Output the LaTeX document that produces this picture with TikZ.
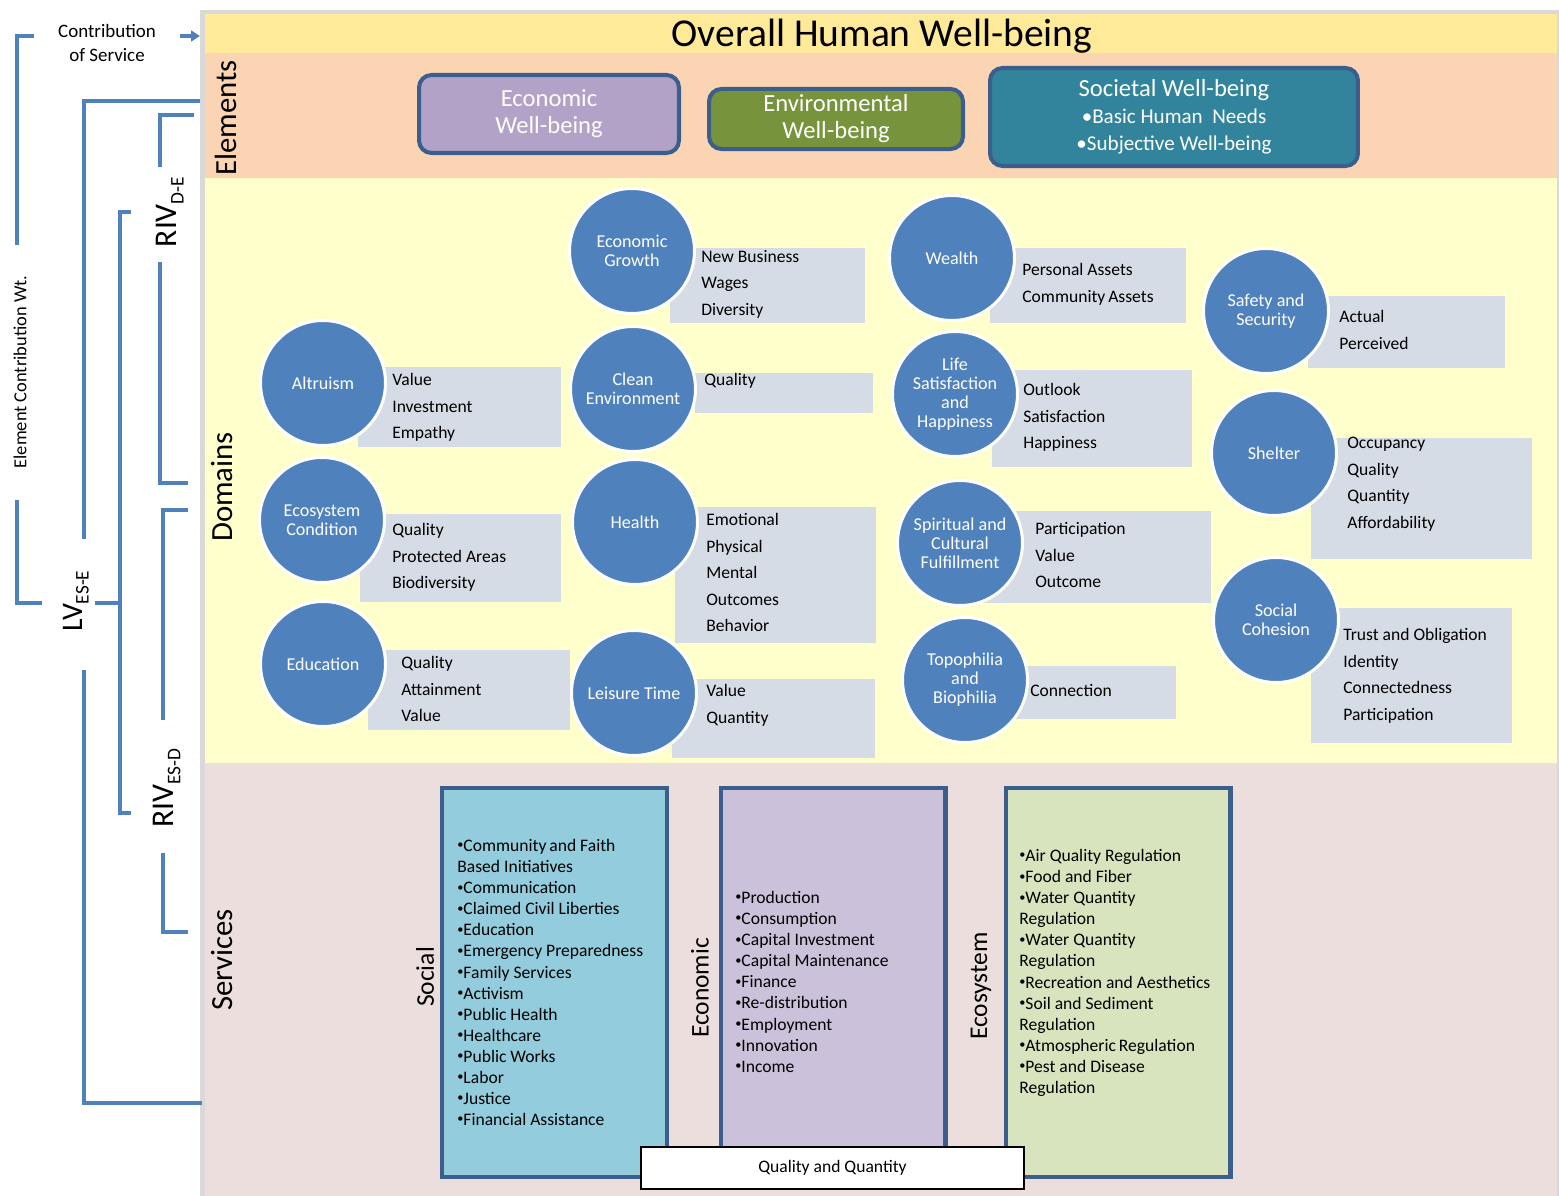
\documentclass[tikz,border=0pt]{standalone}
\usepackage{fontspec}
\setmainfont{Carlito}
\usepackage{xcolor}
\usetikzlibrary{arrows.meta}

\definecolor{bandtop}{HTML}{FFEA9A}
\definecolor{bandelem}{HTML}{FBD4B4}
\definecolor{banddom}{HTML}{FFFFCC}
\definecolor{bandserv}{HTML}{EBDEDD}
\definecolor{framegray}{HTML}{D9D9D9}
\definecolor{domblue}{HTML}{4F81BD}
\definecolor{listgray}{HTML}{D6DCE5}
\definecolor{edgeblue}{HTML}{3B5E8C}
\definecolor{econpurple}{HTML}{B2A2C7}
\definecolor{envgreen}{HTML}{77933C}
\definecolor{socteal}{HTML}{31849B}
\definecolor{servsoc}{HTML}{93CDDD}
\definecolor{servecon}{HTML}{CCC1DA}
\definecolor{serveco}{HTML}{D7E4BD}

\tikzset{
  domcircle/.style={circle, fill=domblue, draw=white, line width=1.7pt, minimum size=2.5cm,
    inner sep=0pt, align=center, text=white, font=\fontsize{10.3}{10.8}\selectfont},
  listtext/.style={anchor=north west, inner sep=0pt, align=left, font=\fontsize{10}{15.1}\selectfont},
  element/.style={rounded corners=0.25cm, draw=edgeblue, line width=2.3pt, align=center,
    text=white, font=\fontsize{14}{15.4}\selectfont},
  servbox/.style={draw=edgeblue, line width=2.3pt, minimum width=4.5cm, minimum height=7.78cm},
  servtext/.style={anchor=north west, inner sep=0pt, align=left, font=\fontsize{10}{12}\selectfont},
  bandlabel/.style={rotate=90, font=\fontsize{17.5}{20}\selectfont},
  servlabel/.style={rotate=90, font=\fontsize{14.5}{16}\selectfont},
  bracket/.style={draw=domblue, line width=1.9pt},
  rivlabel/.style={rotate=90, inner sep=0pt, font=\fontsize{18}{20}\selectfont}
}
\newcommand{\lowsub}[1]{\raisebox{-0.45ex}{\fontsize{11}{11}\selectfont #1}}
\newcommand{\sbul}{{\fontsize{7}{7}\selectfont\raisebox{0.45ex}{•}}}

\begin{document}
\begin{tikzpicture}[x=0.02cm,y=-0.02cm]
\useasboundingbox (0,0) rectangle (1559,1196);
% bands
\fill [framegray] (200,10) rectangle (1559,1196);
\fill [bandtop] (205,14) rectangle (1557,53);
\fill [bandelem] (205,53) rectangle (1557,178);
\fill [banddom] (205,178) rectangle (1557,763);
\fill [bandserv] (205,763) rectangle (1557,1196);
\node [font=\fontsize{22.5}{26}\selectfont] (title) at (882,36) {Overall Human Well-being};
\node [bandlabel] (elements) at (226,118) {Elements};
\node [bandlabel] (domains) at (222,487) {Domains};
\node [bandlabel] (services) at (222,960) {Services};

% elements
\node [element, fill=econpurple, minimum width=5.2cm, minimum height=1.56cm] (econwb) at (549,114) {Economic\\Well-being};
\node [element, fill=envgreen, minimum width=5.08cm, minimum height=1.16cm] (envwb) at (836,119) {Environmental\\Well-being};
\node [element, fill=socteal, minimum width=7.36cm, minimum height=1.96cm] (socwb) at (1174,117)
  {Societal Well-being\\{\fontsize{12}{15}\selectfont •Basic Human~~Needs}\\{\fontsize{12}{15}\selectfont •Subjective Well-being}};

% domain lists (behind the circles)
\fill [listgray] (358,367) rectangle (561,447);
\fill [listgray] (360,514) rectangle (561,602);
\fill [listgray] (368,650) rectangle (570,730);
\fill [listgray] (670,248) rectangle (865,323);
\fill [listgray] (695,373) rectangle (873,413);
\fill [listgray] (675,507) rectangle (876,643);
\fill [listgray] (672,679) rectangle (875,758);
\fill [listgray] (990,248) rectangle (1186,323);
\fill [listgray] (992,370) rectangle (1192,467);
\fill [listgray] (973,511) rectangle (1211,603);
\fill [listgray] (987,666) rectangle (1176,719);
\fill [listgray] (1308,296) rectangle (1505,368);
\fill [listgray] (1311,438) rectangle (1532,559);
\fill [listgray] (1311,608) rectangle (1512,743);

\node [domcircle] (altruism) at (323,383) {Altruism};
\node [domcircle] (ecocond) at (322,520) {Ecosystem\\Condition};
\node [domcircle] (educ) at (323,664) {Education};
\node [domcircle] (ecogrowth) at (632,251) {Economic\\Growth};
\node [domcircle] (cleanenv) at (633,389) {Clean\\Environment};
\node [domcircle] (health) at (635,522) {Health};
\node [domcircle] (leisure) at (634,693) {Leisure Time};
\node [domcircle] (wealth) at (952,258) {Wealth};
\node [domcircle] (lifesat) at (955,394) {Life\\Satisfaction\\and\\Happiness};
\node [domcircle] (spirit) at (960,543) {Spiritual and\\Cultural\\Fulfillment};
\node [domcircle] (topo) at (965,680) {Topophilia\\and\\Biophilia};
\node [domcircle] (safety) at (1266,311) {Safety and\\Security};
\node [domcircle] (shelter) at (1274,453) {Shelter};
\node [domcircle] (cohesion) at (1276,620) {Social\\Cohesion};

\node [listtext] (altruism-list) at (392,373) {Value\\Investment\\Empathy};
\node [listtext] (ecocond-list) at (392,523) {Quality\\Protected Areas\\Biodiversity};
\node [listtext] (educ-list) at (401,656) {Quality\\Attainment\\Value};
\node [listtext] (ecogrowth-list) at (701,250) {New Business\\Wages\\Diversity};
\node [listtext] (cleanenv-list) at (704,373) {Quality};
\node [listtext] (health-list) at (706,513) {Emotional\\Physical\\Mental\\Outcomes\\Behavior};
\node [listtext] (leisure-list) at (706,684) {Value\\Quantity};
\node [listtext] (wealth-list) at (1022,263) {Personal Assets\\Community\,Assets};
\node [listtext] (lifesat-list) at (1023,383) {Outlook\\Satisfaction\\Happiness};
\node [listtext] (spirit-list) at (1035,522) {Participation\\Value\\Outcome};
\node [listtext] (topo-list) at (1030,684) {Connection};
\node [listtext] (safety-list) at (1339,310) {Actual\\Perceived};
\node [listtext] (shelter-list) at (1347,437) {Occupancy\\Quality\\Quantity\\Affordability};
\node [listtext] (cohesion-list) at (1343,628) {Trust and Obligation\\Identity\\Connectedness\\Participation};

% services
\node [servbox, fill=servsoc] (socbox) at (554.5,982.5) {};
\node [servbox, fill=servecon] (econbox) at (833,982.5) {};
\node [servbox, fill=serveco] (ecobox) at (1118,982.5) {};
\node [servlabel] (social) at (425,977) {Social};
\node [servlabel] (economic) at (700,988) {Economic};
\node [servlabel] (ecosystem) at (981,986) {Ecosystem};
\node [servtext] (soc-list) at (457,839) {\sbul Community\,and Faith\\Based Initiatives\\\sbul Communication\\\sbul Claimed Civil Liberties\\\sbul Education\\\sbul Emergency Preparedness\\\sbul Family Services\\\sbul Activism\\\sbul Public Health\\\sbul Healthcare\\\sbul Public Works\\\sbul Labor\\\sbul Justice\\\sbul Financial Assistance};
\node [servtext] (econ-list) at (735,891) {\sbul Production\\\sbul Consumption\\\sbul Capital Investment\\\sbul Capital Maintenance\\\sbul Finance\\\sbul Re-distribution\\\sbul Employment\\\sbul Innovation\\\sbul Income};
\node [servtext] (eco-list) at (1019,849) {\sbul Air Quality Regulation\\\sbul Food and Fiber\\\sbul Water Quantity\\Regulation\\\sbul Water Quantity\\Regulation\\\sbul Recreation and Aesthetics\\\sbul Soil and Sediment\\Regulation\\\sbul Atmospheric\,Regulation\\\sbul Pest and Disease\\Regulation};
\node [draw=black, fill=white, line width=0.8pt, minimum width=7.66cm, minimum height=0.84cm,
  font=\fontsize{10}{12}\selectfont] (qualqty) at (832.5,1168) {Quality and Quantity};

% brackets on the left
\node [align=center, font=\fontsize{10.8}{13.7}\selectfont] (contrib) at (107,43) {Contribution\\of Service};
\draw [bracket, -{Triangle[length=5pt,width=6pt]}] (180,36) -- (200,36);
\node [rotate=90, font=\fontsize{10.5}{12}\selectfont] (ecwt) at (20,372) {Element Contribution Wt.};
\draw [bracket] (34,36) -| (17,245);
\draw [bracket] (17,500) |- (42,603);
\node [rivlabel, font=\fontsize{17}{20}\selectfont] (lv) at (76,601) {LV\lowsub{ES-E}};
\draw [bracket] (200,101) -| (84,539);
\draw [bracket] (84,670) |- (202,1103);
\draw [bracket] (95,603) -- (120,603);
\draw [bracket] (131,212) -| (120,813) -- (131,813);
\node [rivlabel] (rivde) at (170,212) {RIV\lowsub{D-E}};
\draw [bracket] (194,115) -| (160,167);
\draw [bracket] (160,262) |- (188,483);
\node [rivlabel] (rivesd) at (167,788) {RIV\lowsub{ES-D}};
\draw [bracket] (188,510) -| (163,720);
\draw [bracket] (163,853) |- (188,932);
\end{tikzpicture}
\end{document}
